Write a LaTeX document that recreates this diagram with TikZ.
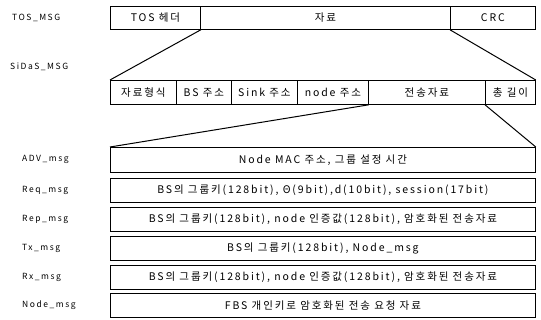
\documentclass[tikz,border=0pt]{standalone}
\usepackage{fontspec}
\setmainfont[LetterSpace=18]{Noto Sans CJK KR}
\begin{document}
\begin{tikzpicture}[x=1pt,y=-1pt,
  cell/.style={draw, line width=0.8pt, inner sep=0pt, anchor=north west, font=\fontsize{10.5}{12}\selectfont},
  lbl/.style={anchor=west, inner sep=0pt, font=\fontsize{8.5}{10}\selectfont},
  conn/.style={line width=1pt}]
\useasboundingbox (0,0) rectangle (541,320);
% TOS row
\node[cell, minimum width=90, minimum height=23] (tosh) at (110,6) {TOS 헤더};
\node[cell, minimum width=250, minimum height=23] (tosd) at (200,6) {자료};
\node[cell, minimum width=85, minimum height=23] (crc) at (450,6) {CRC};
% SiDaS row
\node[cell, minimum width=66, minimum height=24] (s1) at (110,80) {자료형식};
\node[cell, minimum width=55, minimum height=24] (s2) at (176,80) {BS 주소};
\node[cell, minimum width=66, minimum height=24] (s3) at (231,80) {Sink 주소};
\node[cell, minimum width=71, minimum height=24] (s4) at (297,80) {node 주소};
\node[cell, minimum width=117, minimum height=24] (s5) at (368,80) {전송자료};
\node[cell, minimum width=50, minimum height=24] (s6) at (485,80) {총 길이};
% message rows
\node[cell, minimum width=425, minimum height=25] (adv) at (110,147) {Node MAC 주소, 그룹 설정 시간};
\node[cell, minimum width=425, minimum height=24] (req) at (110,178) {BS의 그룹키(128bit), Θ(9bit),d(10bit), session(17bit)};
\node[cell, minimum width=425, minimum height=24] (rep) at (110,207) {BS의 그룹키(128bit), node 인증값(128bit), 암호화된 전송자료};
\node[cell, minimum width=425, minimum height=24] (tx) at (110,236) {BS의 그룹키(128bit), Node\_msg};
\node[cell, minimum width=425, minimum height=24] (rx) at (110,265) {BS의 그룹키(128bit), node 인증값(128bit), 암호화된 전송자료};
\node[cell, minimum width=425, minimum height=24] (nm) at (110,293) {FBS 개인키로 암호화된 전송 요청 자료};
% labels
\node[lbl] (l1) at (12,18) {TOS\_MSG};
\node[lbl] (l2) at (10,67) {SiDaS\_MSG};
\node[lbl] (l3) at (22,159) {ADV\_msg};
\node[lbl] (l4) at (22,190) {Req\_msg};
\node[lbl] (l5) at (22,219) {Rep\_msg};
\node[lbl] (l6) at (22,248) {Tx\_msg};
\node[lbl] (l7) at (22,277) {Rx\_msg};
\node[lbl] (l8) at (22,305) {Node\_msg};
% connectors
\draw[conn] (tosh.south east) -- (s1.north west);
\draw[conn] (crc.south west) -- (s6.north east);
\draw[conn] (s4.south east) -- (adv.north west);
\draw[conn] (s6.south west) -- (adv.north east);
\end{tikzpicture}
\end{document}
